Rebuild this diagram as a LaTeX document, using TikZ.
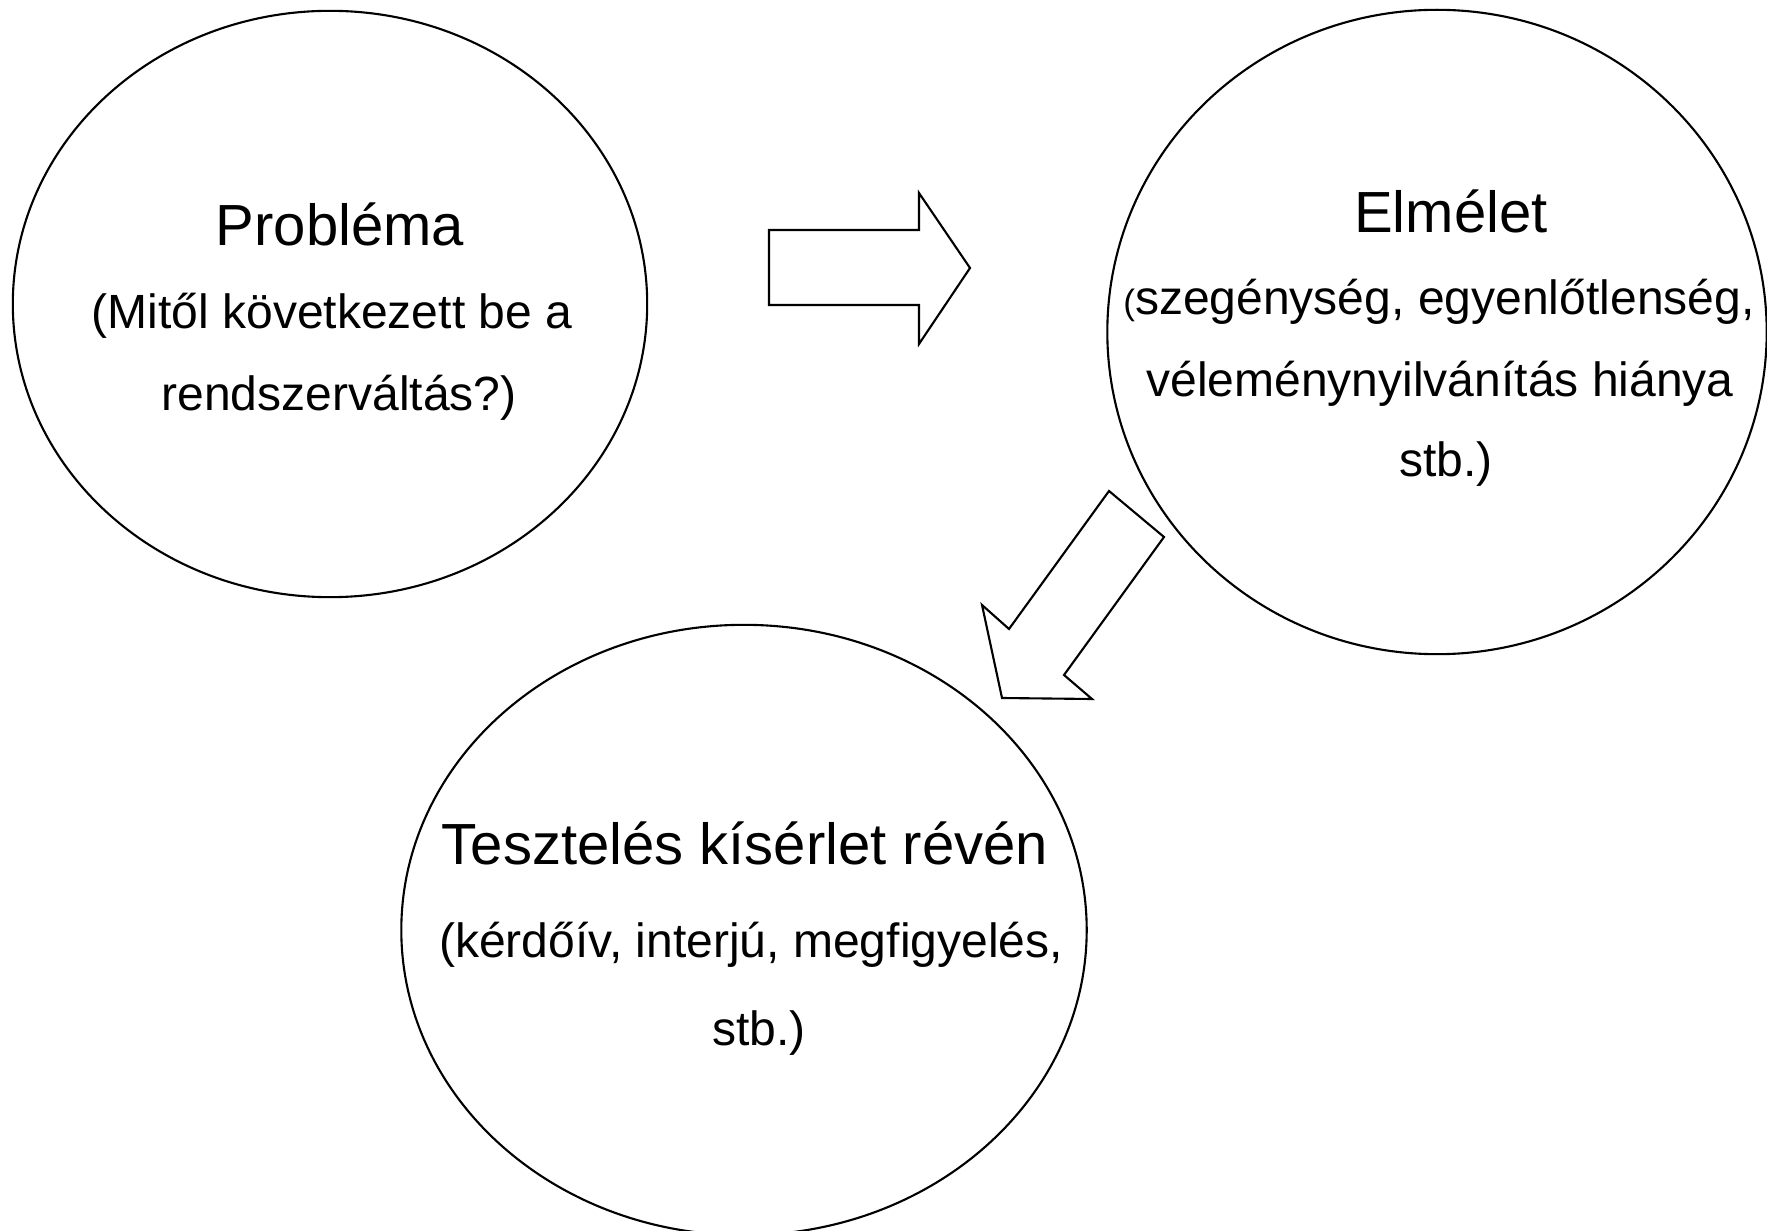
\documentclass[tikz,border=0pt]{standalone}
\usepackage{fontspec}
\setmainfont{Liberation Sans}
\usetikzlibrary{shapes.geometric}

\tikzset{
  bubble/.style={draw, ellipse, line width=0.6pt, inner sep=0pt, outer sep=0pt},
  headtext/.style={anchor=base, inner sep=0pt, font=\fontsize{16.5pt}{20pt}\selectfont},
  bodytext/.style={anchor=base, inner sep=0pt, font=\fontsize{13.66pt}{16pt}\selectfont},
  blockarrow/.style={draw, line width=0.6pt, line join=miter},
}

\begin{document}
\begin{tikzpicture}[x=0.01cm, y=-0.01cm]
\useasboundingbox (0,0) rectangle (1767,1231);

% bubbles
\node[bubble, minimum width=6.34cm, minimum height=5.86cm] (problema) at (330,304) {};
\node[bubble, minimum width=6.59cm, minimum height=6.44cm] (elmelet) at (1437,332) {};
\node[bubble, minimum width=6.85cm, minimum height=6.10cm] (teszt) at (744,930) {};

% texts
\node[headtext] (problema-t) at (340,246) {Probléma};
\node[bodytext] (problema-1) at (332,329) {(Mitől következett be a};
\node[bodytext] (problema-2) at (339,411) {rendszerváltás?)};

\node[headtext] (elmelet-t) at (1451,233) {Elmélet};
\node[bodytext] (elmelet-1) at (1439,315) {{\fontsize{10pt}{12pt}\selectfont(}szegénység, egyenlőtlenség,};
\node[bodytext] (elmelet-2) at (1440,397) {véleménynyilvánítás hiánya};
\node[bodytext] (elmelet-3) at (1446,477) {stb.)};

\node[headtext] (teszt-t) at (745,864) {Tesztelés kísérlet révén};
\node[bodytext] (teszt-1) at (751,957) {(kérdőív, interjú, megfigyelés,};
\node[bodytext] (teszt-2) at (759,1045) {stb.)};

% block arrows
\draw[blockarrow] (769,230) -- (919,230) -- (919,193) -- (970,268) -- (919,344) -- (919,305) -- (769,305) -- cycle;
\draw[blockarrow] (1109,491) -- (1164,537) -- (1064,675) -- (1092,699) -- (1002,698) -- (982,605) -- (1009,629) -- cycle;
\end{tikzpicture}
\end{document}
